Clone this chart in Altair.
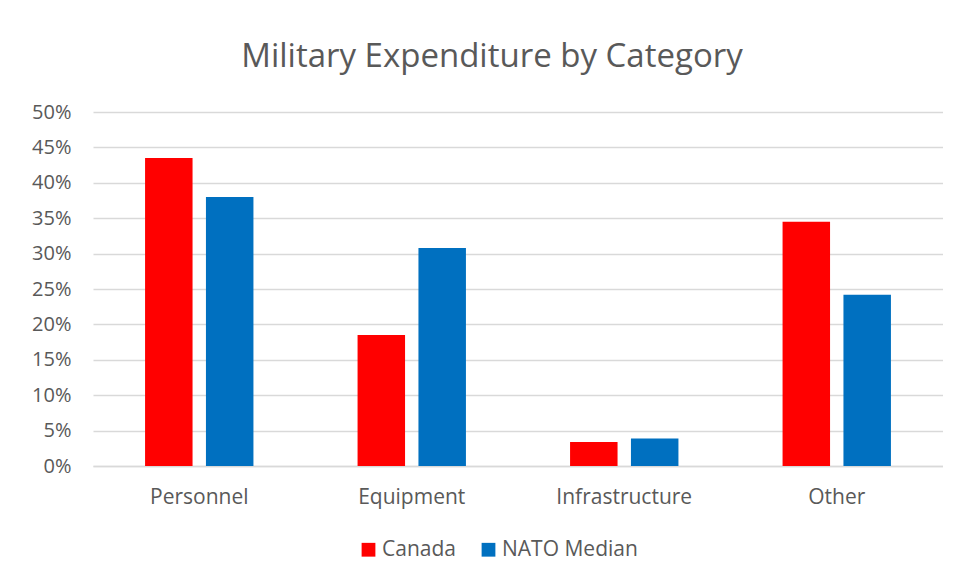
import altair as alt
import pandas as pd

categories = ["Personnel", "Equipment", "Infrastructure", "Other"]
canada = [0.435, 0.185, 0.034, 0.345]
nato_median = [0.380, 0.308, 0.039, 0.242]
series = ["Canada", "NATO Median"]
colors = ["#FF0000", "#0070C0"]

rows = []
for c, a, b in zip(categories, canada, nato_median):
    rows.append({"Category": c, "Series": series[0], "Value": a})
    rows.append({"Category": c, "Series": series[1], "Value": b})
df = pd.DataFrame(rows)

FONT = "Open Sans"
GREY = "#595959"

chart = alt.Chart(df).mark_bar().encode(
    x=alt.X("Category:N", sort=categories,
            scale=alt.Scale(paddingInner=0.49, paddingOuter=0.245),
            axis=alt.Axis(title=None, labelAngle=0, ticks=False, domain=True,
                          domainColor="#d9d9d9", domainWidth=1.5, labelPadding=20,
                          labelFontSize=21, labelColor=GREY, labelFont=FONT)),
    xOffset=alt.XOffset("Series:N", sort=series,
                        scale=alt.Scale(paddingInner=0.22, paddingOuter=0)),
    y=alt.Y("Value:Q", scale=alt.Scale(domain=[0, 0.5]),
            axis=alt.Axis(title=None, format=".0%", values=[i / 20 for i in range(11)],
                          ticks=False, domain=False, labelPadding=22,
                          labelFontSize=20, labelColor=GREY, labelFont=FONT,
                          gridColor="#d9d9d9", gridWidth=1.5)),
    color=alt.Color("Series:N", sort=series,
                    scale=alt.Scale(domain=series, range=colors),
                    legend=alt.Legend(title=None, orient="none", direction="horizontal",
                                      legendX=265, legendY=427,
                                      symbolType="square", symbolSize=190,
                                      symbolStrokeWidth=0, columnPadding=22,
                                      labelFontSize=21, labelColor=GREY, labelFont=FONT,
                                      labelOffset=3)),
).properties(
    width=850,
    height=354,
    title=alt.Title("Military Expenditure by Category", fontSize=33, font=FONT,
                    fontWeight="normal", color=GREY, anchor="middle", dx=-26, offset=28),
    autosize=alt.AutoSizeParams(type="none"),
    padding={"left": 85, "top": 104, "right": 0, "bottom": 110},
).configure_view(stroke=None).configure_bar(strokeWidth=0)

chart.save("out.html", embed_options={"renderer": "svg", "actions": False})
